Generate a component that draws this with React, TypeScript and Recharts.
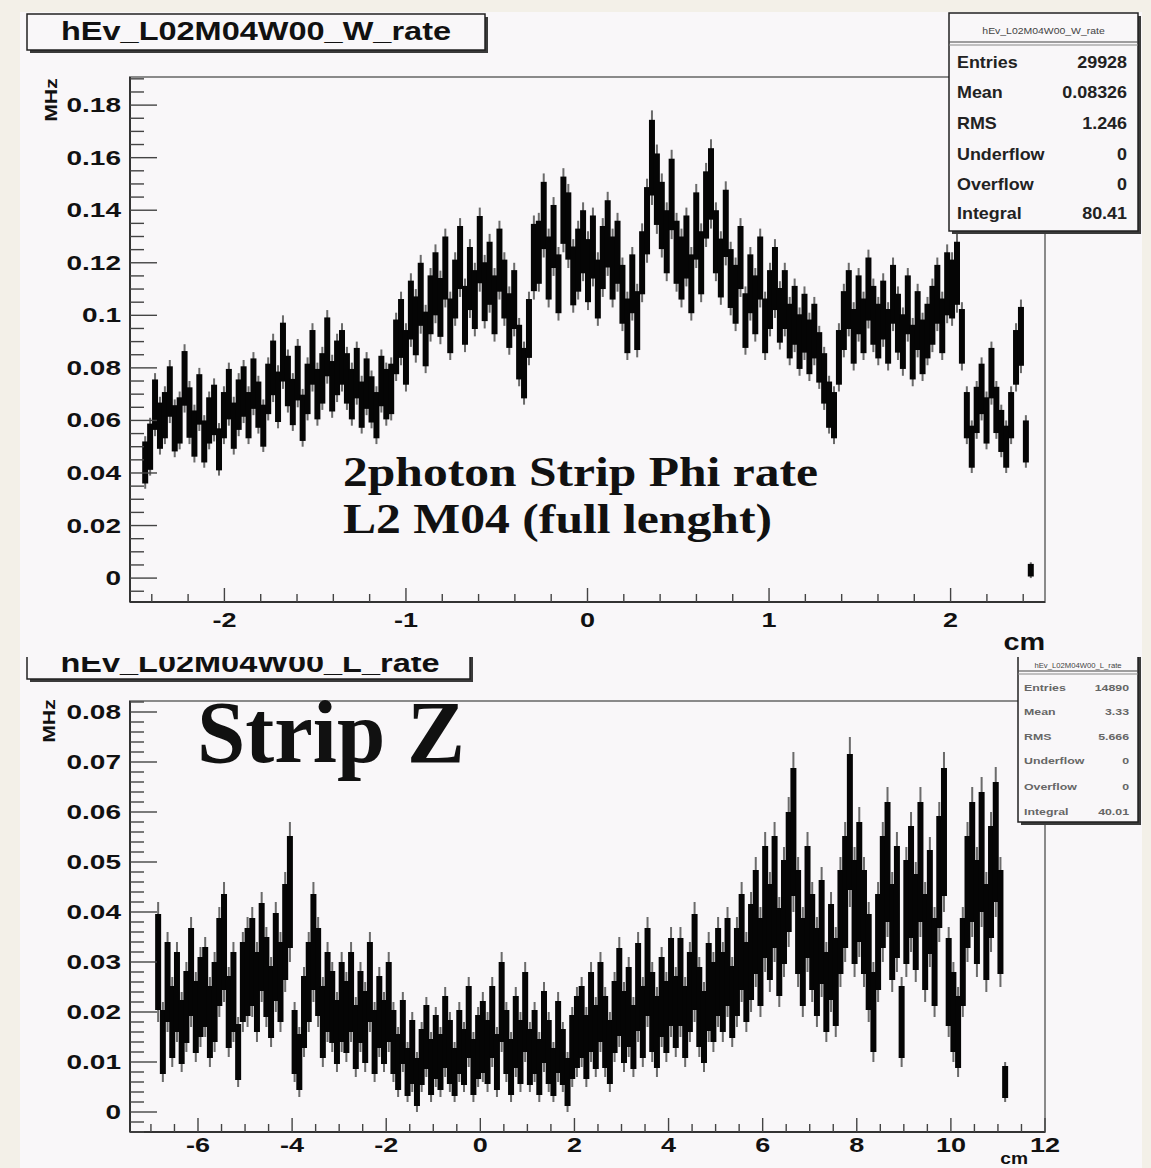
import React from "react";
import { ComposedChart, Bar, XAxis, YAxis, ReferenceArea } from "recharts";

// hEv_L02M04W00_W_rate : bin content and error, in 1e-3 MHz, bins of 0.0271 cm from -2.45 cm
const W_START = -2.45;
const W_BIN = 0.0271;
const wRate = [
  44, 50, 66, 58, 62, 71, 57, 60, 76, 63,
  55, 68, 52, 60, 64, 49, 62, 70, 58, 66,
  71, 62, 74, 66, 58, 72, 80, 69, 86, 75,
  67, 78, 61, 72, 84, 70, 76, 88, 73, 80,
  84, 76, 70, 78, 66, 74, 68, 62, 75, 70,
  72, 88, 95, 84, 102, 96, 108, 91, 104, 112,
  103, 118, 96, 110, 122, 100, 114, 106, 125, 109,
  116, 104, 121, 110, 98, 106, 86, 78, 95, 122,
  124, 138, 118, 130, 112, 140, 134, 115, 121, 128,
  117, 126, 110, 122, 131, 118, 124, 108, 96, 112,
  98, 120, 136, 160, 148, 138, 128, 146, 124, 118,
  126, 112, 134, 120, 142, 150, 128, 118, 135, 114,
  108, 122, 98, 112, 104, 118, 96, 106, 114, 100,
  106, 94, 100, 90, 97, 88, 94, 84, 76, 66,
  62, 84, 98, 106, 92, 104, 96, 110, 100, 94,
  102, 92, 108, 97, 90, 104, 86, 98, 88, 94,
  100, 108, 96, 112, 110, 116, 92, 62, 50, 64,
  72, 60, 78, 64, 56, 50, 62, 84, 92, 52,
  3,
];
const wErr = [
  10, 11, 12, 11, 11, 12, 11, 11, 13, 12,
  11, 12, 10, 11, 12, 10, 11, 12, 11, 12,
  12, 11, 12, 11, 10, 12, 13, 12, 14, 12,
  11, 13, 11, 12, 13, 12, 12, 14, 12, 13,
  13, 12, 12, 12, 11, 12, 11, 11, 12, 12,
  12, 13, 14, 13, 14, 14, 15, 13, 14, 15,
  14, 15, 13, 14, 15, 14, 15, 14, 16, 14,
  15, 14, 15, 14, 13, 14, 13, 12, 14, 16,
  15, 16, 15, 15, 14, 16, 16, 14, 15, 15,
  15, 15, 14, 15, 16, 15, 15, 14, 13, 14,
  14, 15, 16, 18, 17, 16, 15, 17, 15, 15,
  15, 14, 16, 15, 16, 17, 15, 14, 16, 14,
  14, 15, 13, 14, 14, 15, 13, 14, 15, 13,
  14, 13, 14, 13, 14, 13, 13, 12, 12, 11,
  11, 13, 14, 14, 13, 14, 13, 15, 14, 13,
  14, 13, 14, 14, 13, 14, 13, 14, 13, 13,
  14, 14, 13, 15, 14, 15, 13, 11, 10, 11,
  12, 11, 12, 11, 10, 10, 11, 13, 14, 10,
  3,
];

// hEv_L02M04W00_L_rate : bin content and error, in 1e-3 MHz, bins of 0.1 cm from -6.9 cm
const L_START = -6.9;
const L_BIN = 0.1;
const lRate = [
  30, 14, 26, 18, 24, 16, 21, 28, 19, 23,
  25, 18, 22, 30, 34, 20, 24, 12, 26, 28,
  30, 24, 33, 27, 22, 31, 26, 36, 44, 14,
  10, 20, 26, 34, 28, 18, 24, 21, 16, 22,
  19, 24, 15, 21, 17, 26, 14, 20, 16, 22,
  14, 10, 16, 8, 12, 6, 11, 15, 9, 13,
  10, 16, 12, 8, 14, 11, 18, 9, 13, 15,
  12, 18, 10, 22, 14, 9, 16, 12, 20, 11,
  14, 9, 17, 12, 8, 15, 11, 6, 13, 16,
  18, 13, 20, 15, 22, 16, 12, 19, 24, 17,
  21, 15, 25, 18, 28, 20, 16, 23, 19, 26,
  20, 26, 18, 24, 30, 21, 17, 25, 22, 28,
  24, 30, 22, 28, 34, 26, 32, 38, 30, 42,
  36, 44, 32, 40, 48, 56, 38, 30, 42, 34,
  28, 36, 24, 32, 26, 38, 44, 58, 40, 46,
  38, 30, 20, 34, 44, 50, 36, 42, 18, 40,
  46, 38, 50, 34, 42, 30, 48, 56, 26, 20,
  16, 30, 44, 50, 40, 52, 36, 46, 54, 38,
  6,
];
const lErr = [
  12, 8, 10, 9, 10, 8, 9, 11, 9, 10,
  10, 9, 10, 11, 12, 9, 10, 7, 10, 11,
  11, 10, 11, 10, 9, 11, 10, 12, 14, 8,
  7, 9, 10, 12, 11, 9, 10, 9, 8, 10,
  9, 10, 8, 9, 9, 10, 8, 9, 8, 10,
  8, 7, 8, 6, 8, 6, 7, 8, 7, 8,
  7, 9, 8, 6, 8, 7, 9, 7, 8, 9,
  8, 9, 7, 10, 8, 7, 9, 8, 10, 7,
  8, 7, 9, 8, 6, 9, 7, 6, 8, 9,
  9, 8, 10, 8, 10, 9, 8, 9, 11, 9,
  10, 8, 11, 9, 11, 10, 9, 10, 9, 11,
  9, 11, 9, 10, 12, 10, 9, 11, 10, 11,
  10, 11, 9, 11, 12, 10, 12, 13, 11, 14,
  12, 14, 11, 13, 15, 16, 13, 11, 14, 12,
  11, 13, 10, 12, 11, 13, 14, 17, 13, 15,
  13, 12, 10, 12, 14, 15, 12, 14, 9, 13,
  14, 12, 15, 12, 13, 11, 14, 16, 11, 10,
  9, 11, 14, 15, 13, 15, 12, 14, 15, 13,
  4,
];

const W_X_LABELS = [-2, -1, 0, 1, 2];
const W_Y_LABELS = [0, 0.02, 0.04, 0.06, 0.08, 0.1, 0.12, 0.14, 0.16, 0.18];
const L_X_LABELS = [-6, -4, -2, 0, 2, 4, 6, 8, 10, 12];
const L_Y_LABELS = [0, 0.01, 0.02, 0.03, 0.04, 0.05, 0.06, 0.07, 0.08];

const W_STATS = [
  ["Entries", "29928"],
  ["Mean", "0.08326"],
  ["RMS", "1.246"],
  ["Underflow", "0"],
  ["Overflow", "0"],
  ["Integral", "80.41"],
];
const L_STATS = [
  ["Entries", "14890"],
  ["Mean", "3.33"],
  ["RMS", "5.666"],
  ["Underflow", "0"],
  ["Overflow", "0"],
  ["Integral", "40.01"],
];

const SANS = "'Liberation Sans', Arial, Helvetica, sans-serif";
const SERIF = "'Liberation Serif', 'Times New Roman', serif";
const PANEL = "#f9f7f9";

const wTable = wRate.map((v, i) => ({
  x: W_START + (i + 0.5) * W_BIN,
  range: [(v - wErr[i]) / 1000, (v + wErr[i]) / 1000],
}));
const lTable = lRate.map((v, i) => ({
  x: L_START + (i + 0.5) * L_BIN,
  range: [(v - lErr[i]) / 1000, (v + lErr[i]) / 1000],
}));

// minor tick grids
const wXTicks = Array.from({ length: 25 }, (_, i) => (i - 12) / 5);
const wYTicks = Array.from({ length: 40 }, (_, i) => ((i - 1) * 5) / 1000);
const lXTicks = Array.from({ length: 39 }, (_, i) => (i - 14) / 2);
const lYTicks = Array.from({ length: 44 }, (_, i) => ((i - 2) * 2) / 1000);

const isOn = (v: number, list: number[]) => list.some((l) => Math.abs(l - v) < 1e-9);
const fmt = (v: number) => String(Math.round(v * 1000) / 1000);

function Stretch({ x, y, sx = 1, size, anchor = "start", fill = "#111", weight = 700, family = SANS, rotate = 0, children }: any) {
  return (
    <g transform={`translate(${x},${y}) rotate(${rotate}) scale(${sx},1)`}>
      <text textAnchor={anchor} fontSize={size} fontWeight={weight} fill={fill} fontFamily={family}>
        {children}
      </text>
    </g>
  );
}

// error bar look: grey whisker tips around a black core
function BinShape(props: any) {
  const { x, y, width, height } = props;
  if (height == null || isNaN(height)) return null;
  const cx = x + width / 2;
  const w = Math.max(width, 1) + 1;
  const tip = Math.abs(height) * 0.1;
  const top = Math.min(y, y + height);
  const h = Math.abs(height);
  return (
    <g>
      <rect x={cx - 1} y={top} width={2} height={h} fill="#6b6b6b" />
      <rect x={cx - w / 2} y={top + tip} width={w} height={Math.max(h - 2 * tip, 1)} fill="#050505" />
    </g>
  );
}

function makeYTick(left: number, labels: number[]) {
  return (props: any) => {
    const { y, payload } = props;
    const major = isOn(payload.value, labels);
    return (
      <g>
        <line x1={left} x2={left + (major ? 27 : 14)} y1={y} y2={y} stroke="#444" strokeWidth={1.4} />
        {major && (
          <Stretch x={left - 9} y={y + 7} sx={1.4} size={20} anchor="end">
            {fmt(payload.value)}
          </Stretch>
        )}
      </g>
    );
  };
}

function makeXTick(bottom: number, labels: number[], labelY: number) {
  return (props: any) => {
    const { x, payload } = props;
    const major = isOn(payload.value, labels);
    return (
      <g>
        <line x1={x} x2={x} y1={bottom} y2={bottom - (major ? 14 : 8)} stroke="#444" strokeWidth={1.4} />
        {major && (
          <Stretch x={x} y={labelY} sx={1.35} size={20} anchor="middle">
            {fmt(payload.value)}
          </Stretch>
        )}
      </g>
    );
  };
}

function Histo({ data, xDomain, yDomain, xTicks, yTicks, xLabels, yLabels, height, margin, labelDy }: any) {
  const left = margin.left + 1;
  const bottom = height - margin.bottom - 1;
  return (
    <ComposedChart width={1151} height={height} data={data} margin={margin} barCategoryGap={0} barGap={0}>
      <ReferenceArea x1={xDomain[0]} x2={xDomain[1]} y1={yDomain[0]} y2={yDomain[1]} fill="none" stroke="#8a8a8a" strokeWidth={2} />
      <Bar dataKey="range" fill="#050505" shape={BinShape} isAnimationActive={false} />
      <XAxis
        dataKey="x"
        type="number"
        domain={xDomain}
        allowDataOverflow
        ticks={xTicks}
        interval={0}
        height={1}
        tickSize={0}
        tickLine={false}
        axisLine={{ stroke: "#333", strokeWidth: 2 }}
        tick={makeXTick(bottom, xLabels, bottom + labelDy)}
      />
      <YAxis
        type="number"
        domain={yDomain}
        allowDataOverflow
        ticks={yTicks}
        interval={0}
        width={1}
        tickSize={0}
        tickLine={false}
        axisLine={{ stroke: "#333", strokeWidth: 2 }}
        tick={makeYTick(left, yLabels)}
      />
    </ComposedChart>
  );
}

function StatBox({ x, y, w, h, title, rows, rowYs, size, sx, fill, titleY, sepY, labelX, valueX, titleSize }: any) {
  return (
    <g>
      <rect x={x + 3} y={y + 3} width={w} height={h} fill="#3a3a3a" />
      <rect x={x} y={y} width={w} height={h} fill={PANEL} stroke="#222" strokeWidth={1.5} />
      <Stretch x={x + w / 2} y={titleY} sx={1.1} size={titleSize} anchor="middle" fill="#444" weight={400}>
        {title}
      </Stretch>
      <line x1={x} x2={x + w} y1={sepY} y2={sepY} stroke="#444" strokeWidth={1.2} />
      <line x1={x} x2={x + w} y1={sepY + 3} y2={sepY + 3} stroke="#888" strokeWidth={1.2} />
      {rows.map((r: string[], i: number) => (
        <g key={r[0]}>
          <Stretch x={labelX} y={rowYs[i]} sx={sx} size={size} fill={fill}>
            {r[0]}
          </Stretch>
          <Stretch x={valueX} y={rowYs[i]} sx={sx} size={size} fill={fill} anchor="end">
            {r[1]}
          </Stretch>
        </g>
      ))}
    </g>
  );
}

export default function App() {
  return (
    <div style={{ position: "absolute", left: 0, top: 0, width: 1151, height: 1168, background: "#f3f0e8", overflow: "hidden" }}>
      <div style={{ position: "absolute", left: 20, top: 12, width: 1122, height: 1156, background: PANEL }} />
      <div style={{ position: "absolute", left: 0, top: 0 }}>
        <Histo
          data={wTable}
          xDomain={[-2.52, 2.52]}
          yDomain={[-0.0091, 0.1907]}
          xTicks={wXTicks}
          yTicks={wYTicks}
          xLabels={W_X_LABELS}
          yLabels={W_Y_LABELS}
          height={660}
          labelDy={25}
          margin={{ top: 77, right: 106, bottom: 57, left: 129 }}
        />
      </div>
      <div style={{ position: "absolute", left: 0, top: 660 }}>
        <Histo
          data={lTable}
          xDomain={[-7.445, 12]}
          yDomain={[-0.004, 0.0822]}
          xTicks={lXTicks}
          yTicks={lYTicks}
          xLabels={L_X_LABELS}
          yLabels={L_Y_LABELS}
          height={508}
          labelDy={20}
          margin={{ top: 41, right: 106, bottom: 35, left: 129 }}
        />
      </div>
      <svg width={1151} height={1168} style={{ position: "absolute", left: 0, top: 0, pointerEvents: "none" }}>
        <defs>
          <clipPath id="lower">
            <rect x={0} y={657} width={1151} height={511} />
          </clipPath>
        </defs>

        {/* upper pad */}
        <rect x={30} y={17} width={458} height={36} fill="#3a3a3a" />
        <rect x={27} y={14} width={458} height={36} fill={PANEL} stroke="#222" strokeWidth={1.5} />
        <Stretch x={256} y={40} sx={1.3} size={25} anchor="middle">hEv_L02M04W00_W_rate</Stretch>
        <StatBox
          x={949} y={13} w={189} h={218}
          title="hEv_L02M04W00_W_rate" titleY={34} titleSize={9.5} sepY={42}
          rows={W_STATS} rowYs={[68, 98, 129, 160, 190, 219]}
          size={16} sx={1.12} fill="#222" labelX={957} valueX={1127}
        />
        <Stretch x={57} y={100} rotate={-90} sx={1.25} size={17} anchor="middle">MHz</Stretch>
        <Stretch x={1045} y={650} sx={1.2} size={24} anchor="end">cm</Stretch>

        {/* lower pad */}
        <g clipPath="url(#lower)">
          <rect x={30} y={635} width={443} height={47} fill="#3a3a3a" />
          <rect x={27} y={632} width={443} height={47} fill={PANEL} stroke="#222" strokeWidth={1.5} />
          <Stretch x={250} y={672} sx={1.3} size={25} anchor="middle">hEv_L02M04W00_L_rate</Stretch>
          <StatBox
            x={1018} y={630} w={120} h={192}
            title="hEv_L02M04W00_L_rate" titleY={668} titleSize={7} sepY={671}
            rows={L_STATS} rowYs={[691, 715, 740, 764, 790, 815]}
            size={9.5} sx={1.3} fill="#666" labelX={1024} valueX={1129}
          />
        </g>
        <Stretch x={55} y={721} rotate={-90} sx={1.25} size={17} anchor="middle">MHz</Stretch>
        <Stretch x={1028} y={1164} sx={1.2} size={16} anchor="end">cm</Stretch>

        {/* annotations */}
        <text x={343} y={486} fontFamily={SERIF} fontWeight={700} fontSize={42} textLength={475} lengthAdjust="spacingAndGlyphs" fill="#111">
          2photon Strip Phi rate
        </text>
        <text x={343} y={533} fontFamily={SERIF} fontWeight={700} fontSize={42} textLength={429} lengthAdjust="spacingAndGlyphs" fill="#111">
          L2 M04 (full lenght)
        </text>
        <text x={197} y={762} fontFamily={SERIF} fontWeight={700} fontSize={88} textLength={268} lengthAdjust="spacingAndGlyphs" fill="#111">
          Strip Z
        </text>
      </svg>
    </div>
  );
}
